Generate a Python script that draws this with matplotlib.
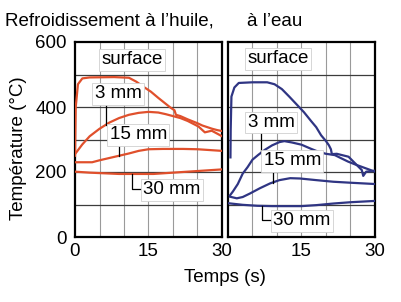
import numpy as np
import matplotlib
matplotlib.use("Agg")
import matplotlib.pyplot as plt

plt.rcParams['font.family'] = ['Liberation Sans', 'DejaVu Sans']

# ---- data (temps en s, température en °C) ----
oil_surface_t = [0, 0.15, 0.6, 1.5, 3, 8, 11, 12.5, 14, 15.5, 17, 18.5, 19.5, 20.3, 20.6, 21.5, 23, 25, 26, 27, 28, 29, 30]
oil_surface_T = [250, 400, 470, 488, 491, 492, 490, 478, 462, 447, 428, 410, 398, 390, 376, 372, 362, 350, 343, 338, 333, 329, 326]
oil_3mm_t = [0, 0.5, 1.5, 3, 5, 7, 9, 11, 13, 15, 17, 18.5, 20, 21.5, 23, 25.2, 26.5, 27.9, 28.9, 30]
oil_3mm_T = [255, 265, 285, 310, 333, 352, 366, 376, 382, 385, 383, 378, 372, 366, 357, 340, 322, 327, 319, 310]
oil_15mm_t = [0, 3.5, 5, 7, 9, 11, 13, 15, 18, 22, 25, 28, 30]
oil_15mm_T = [230, 230, 236, 243, 250, 257, 265, 270, 271, 271, 270, 267, 265]
oil_30mm_t = [0, 3, 6, 9, 12, 16, 19, 22, 25, 28, 30]
oil_30mm_T = [201, 198, 196, 194, 194, 194, 197, 200, 203, 206, 208]

water_surface_t = [0.5, 0.55, 0.7, 1.3, 2.2, 5, 8, 9.5, 11, 12.5, 14, 15.5, 17, 18, 19, 20, 20.6, 21, 21.2, 22.2, 24.6, 27.3, 27.6, 28.2, 30]
water_surface_T = [245, 330, 432, 460, 474, 476, 476, 470, 455, 432, 408, 384, 356, 338, 313, 295, 282, 270, 255, 256, 247, 206, 188, 201, 204]
water_3mm_t = [0.4, 1, 2, 3, 4, 5, 6.2, 7.5, 9, 10.5, 11.5, 13, 15, 17, 18.5, 20, 21.8, 23, 24.5, 26, 28, 30]
water_3mm_T = [128, 140, 163, 195, 215, 238, 253, 268, 282, 292, 295, 291, 284, 271, 262, 256, 252, 243, 232, 223, 212, 201]
water_15mm_t = [0.4, 1.8, 3, 4.5, 6.5, 8.6, 10.5, 12.7, 14.7, 18, 21.5, 25, 30]
water_15mm_T = [124, 119, 123, 134, 150, 165, 175, 181, 180, 175, 170, 167, 163]
water_30mm_t = [0, 3, 6, 9, 12, 15, 18, 21.5, 25, 30]
water_30mm_T = [104, 99, 96, 95, 95, 95, 98, 103, 107, 111]

y_ticks = [0, 200, 400, 600]
oil_x_ticks = [0, 15, 30]
water_x_ticks = [15, 30]
labels = ["surface", "3 mm", "15 mm", "30 mm"]

OIL = '#e0502c'
WATER = '#2f3583'

fig = plt.figure(figsize=(4.02, 3.02), dpi=100)
W, H = 402.0, 302.0
ax1 = fig.add_axes([75 / W, 1 - 237 / H, 147 / W, 195 / H])
ax2 = fig.add_axes([228 / W, 1 - 237 / H, 147 / W, 195 / H])

FS = 13.5

def style(ax, xticks, show_y):
    ax.set_xlim(0, 30)
    ax.set_ylim(0, 600)
    for x in np.arange(5, 30, 5):
        ax.axvline(x, color='#9a9a9a', lw=0.8, zorder=0)
    for y in np.arange(100, 600, 100):
        ax.axhline(y, color='#3c3c3c', lw=0.9, zorder=0)
    ax.set_xticks(xticks)
    ax.set_xticklabels([str(v) for v in xticks], fontsize=FS)
    ax.set_yticks(y_ticks)
    if show_y:
        ax.set_yticklabels([str(v) for v in y_ticks], fontsize=FS)
    else:
        ax.set_yticklabels([])
    ax.tick_params(axis='both', length=0)
    ax.tick_params(axis='x', pad=4.5)
    ax.tick_params(axis='y', pad=6)
    for s in ax.spines.values():
        s.set_linewidth(1.6)
        s.set_color('black')

style(ax1, oil_x_ticks, True)
style(ax2, water_x_ticks, False)

LW = 1.6
series_oil = [(oil_surface_t, oil_surface_T), (oil_3mm_t, oil_3mm_T),
              (oil_15mm_t, oil_15mm_T), (oil_30mm_t, oil_30mm_T)]
series_water = [(water_surface_t, water_surface_T), (water_3mm_t, water_3mm_T),
                (water_15mm_t, water_15mm_T), (water_30mm_t, water_30mm_T)]
for t, T in series_oil:
    ax1.plot(t, T, color=OIL, lw=LW, zorder=3, solid_joinstyle='round')
for t, T in series_water:
    ax2.plot(t, T, color=WATER, lw=LW, zorder=3, solid_joinstyle='round')

box = dict(boxstyle='square,pad=0.12', fc='white', ec='#d0d0d0', lw=0.6)

def label(ax, x, y, s):
    ax.text(x, y, s, fontsize=FS, ha='center', va='center', bbox=box, zorder=5)

# label positions (data coords)
label(ax1, 11.6, 545, labels[0])
label(ax1, 8.8, 440, labels[1])
label(ax1, 12.9, 314, labels[2])
label(ax1, 19.8, 145, labels[3])
label(ax2, 10.2, 548, labels[0])
label(ax2, 8.8, 352, labels[1])
label(ax2, 13.1, 234, labels[2])
label(ax2, 15.1, 50, labels[3])

def leader(ax, t, y_top, series):
    yc = np.interp(t, series[0], series[1])
    ax.plot([t, t], [y_top, yc], color='black', lw=0.9, zorder=4)

def leader_L(ax, t, series, y_bot, t_end):
    yc = np.interp(t, series[0], series[1])
    ax.plot([t, t, t_end], [yc, y_bot, y_bot], color='black', lw=0.9, zorder=4)

leader(ax1, 6.3, 415, series_oil[1])
leader(ax1, 9.0, 289, series_oil[2])
leader_L(ax1, 11.6, series_oil[3], 147, 13.7)
leader(ax2, 6.7, 323, series_water[1])
leader(ax2, 9.1, 212, series_water[2])
leader_L(ax2, 6.9, series_water[3], 52, 8.9)

fig.text(5 / W, 1 - 25.5 / H, "Refroidissement à l’huile,", fontsize=FS,
         ha='left', va='baseline')
fig.text(247 / W, 1 - 25.5 / H, "à l’eau", fontsize=FS, ha='left', va='baseline')
fig.text(225 / W, 1 - 282.5 / H, "Temps (s)", fontsize=FS, ha='center', va='baseline')
fig.text(18.5 / W, 1 - 148 / H, "Température (°C)", fontsize=FS, rotation=90,
         ha='center', va='center')

fig.savefig("out.png", dpi=100)
